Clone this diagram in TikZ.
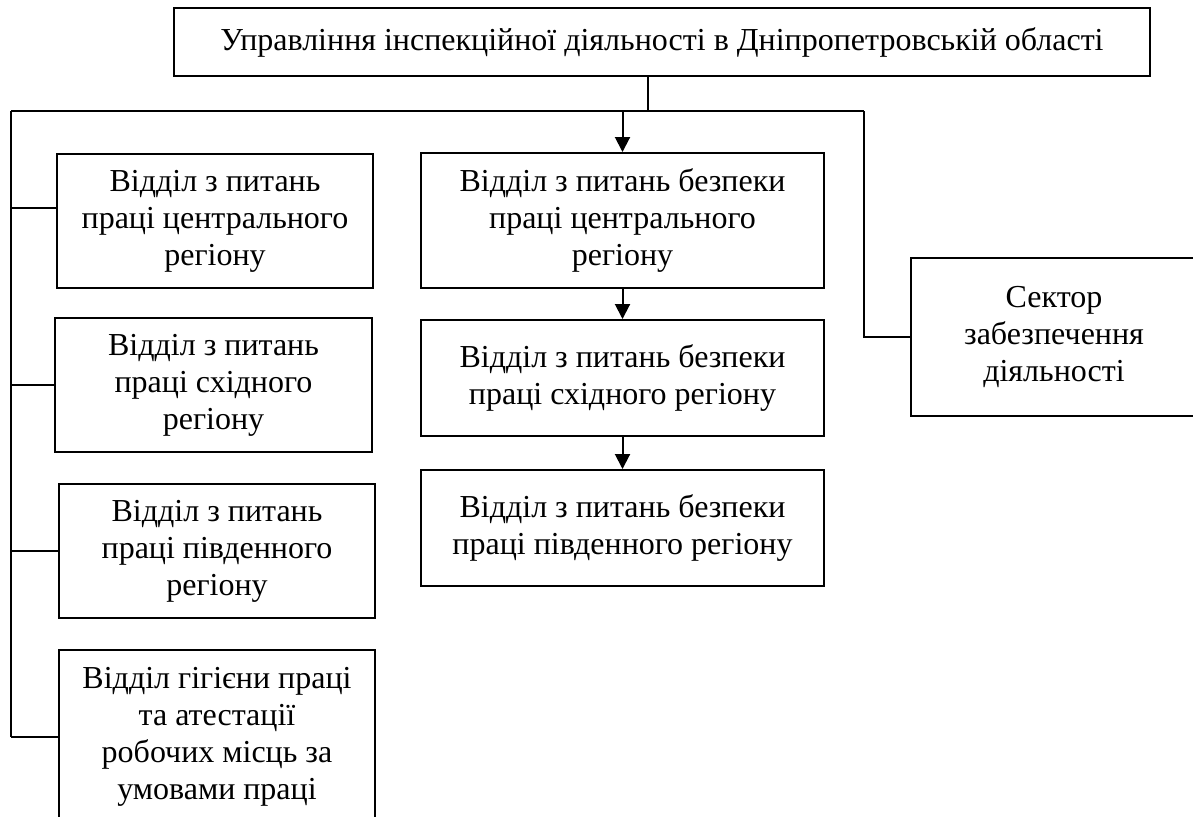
\documentclass[tikz,border=0pt]{standalone}
\usepackage{fontspec}
\setmainfont{Liberation Serif}
\usepackage{tikz}
\usetikzlibrary{positioning,
                calc,
                arrows.meta}

\begin{document}
\begin{tikzpicture}[x=0.5pt,y=-0.5pt]

%--------------------------------------------------
% STYLES
%--------------------------------------------------

\tikzset{
orgunit/.style={
draw=black,
line width=1pt,
anchor=north west,
align=center,
inner sep=2pt,
font=\fontsize{16}{18.5}\selectfont
},
link/.style={
line width=1pt
},
flow/.style={
line width=1pt,
-{Triangle[length=7.5pt,width=7.5pt]}
}
}

%--------------------------------------------------
% FRAME
%--------------------------------------------------

\useasboundingbox (0,0) rectangle (1193,816);
\clip (0,0) rectangle (1193,816);

%--------------------------------------------------
% HEAD
%--------------------------------------------------

\node[orgunit,minimum width=488pt,minimum height=34pt]
(head) at (173,7)
{Управління інспекційної діяльності в Дніпропетровській області};

%--------------------------------------------------
% LEFT COLUMN
%--------------------------------------------------

\node[orgunit,minimum width=158pt,minimum height=67pt]
(lcentr) at (56,153)
{Відділ з питань\\праці центрального\\регіону};

\node[orgunit,minimum width=158.5pt,minimum height=67pt]
(lshid) at (54,317)
{Відділ з питань\\праці східного\\регіону};

\node[orgunit,minimum width=158pt,minimum height=67pt]
(lpivd) at (58,483)
{Відділ з питань\\праці південного\\регіону};

\node[orgunit,minimum width=158pt,minimum height=86.5pt]
(lgig) at (58,649)
{Відділ гігієни праці\\та атестації\\робочих місць за\\умовами праці};

%--------------------------------------------------
% MIDDLE COLUMN
%--------------------------------------------------

\node[orgunit,minimum width=201.5pt,minimum height=67.5pt]
(bcentr) at (420,152)
{Відділ з питань безпеки\\праці центрального\\регіону};

\node[orgunit,minimum width=201.5pt,minimum height=58pt]
(bshid) at (420,319)
{Відділ з питань безпеки\\праці східного регіону};

\node[orgunit,minimum width=201.5pt,minimum height=58pt]
(bpivd) at (420,469)
{Відділ з питань безпеки\\праці південного регіону};

%--------------------------------------------------
% RIGHT
%--------------------------------------------------

\node[orgunit,minimum width=143pt,minimum height=79pt]
(sector) at (910,257)
{Сектор\\забезпечення\\діяльності};

%--------------------------------------------------
% CONNECTORS
%--------------------------------------------------

\coordinate (busL) at (11,111);
\coordinate (busR) at (864,111);
\coordinate (drop) at (648,111);

\draw[link] (head.south -| drop) -- (drop);
\draw[link] (busL) -- (busR);
\draw[link] (busR) |- (sector.west);
\draw[link] (busL) -- (busL |- lgig.west);

\draw[link] ([yshift=6.5pt]lcentr.west -| busL) -- ([yshift=6.5pt]lcentr.west);
\draw[link] (lshid.west -| busL) -- (lshid.west);
\draw[link] (lpivd.west -| busL) -- (lpivd.west);
\draw[link] (lgig.west -| busL) -- (lgig.west);

\draw[flow] (bcentr.north |- busL) -- (bcentr.north);
\draw[flow] (bcentr.south) -- (bshid.north);
\draw[flow] (bshid.south) -- (bpivd.north);

\end{tikzpicture}
\end{document}
